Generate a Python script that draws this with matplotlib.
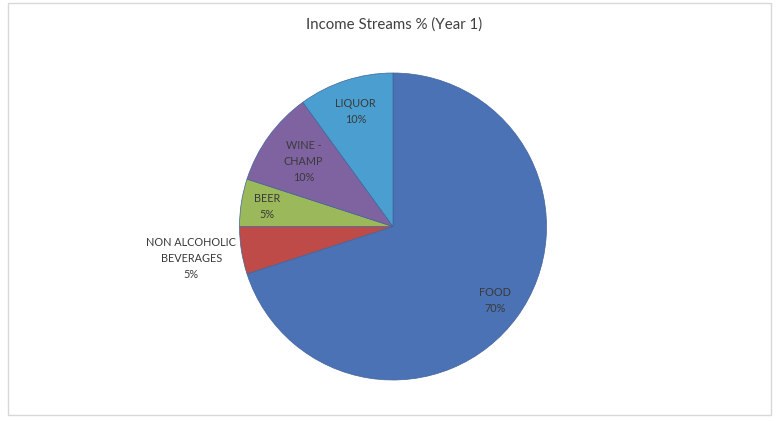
import numpy as np
import matplotlib
matplotlib.use("Agg")
import matplotlib.pyplot as plt
from matplotlib.patches import Rectangle

# income share per stream, drawn clockwise from 12 o'clock
streams = ["FOOD", "NON ALCOHOLIC\nBEVERAGES", "BEER", "WINE -\nCHAMP", "LIQUOR"]
shares = [70, 5, 5, 10, 10]
colors = ["#4A72B5", "#BE4B48", "#9BB85A", "#7F63A1", "#4A9FD0"]

# how far from the centre each label sits (Excel "best fit" look)
label_dist = [0.82, 1.33, 0.83, 0.72, 0.79]

plt.rcParams['font.family'] = ['Lato', 'DejaVu Sans']

fig = plt.figure(figsize=(7.79, 4.21), dpi=100)
fig.patch.set_facecolor("white")

# light chart-area frame
fig.patches.append(Rectangle((8 / 779, 1 - 415 / 421), 763 / 779, 412 / 421,
                             transform=fig.transFigure, fill=False,
                             edgecolor="#d8d8d8", linewidth=1.0))

fig.text(394 / 779, 1 - 25 / 421, "Income Streams % (Year 1)", ha="center", va="center",
         fontsize=10.8, color="#404040")

cx, cy, r = 393, 226.5, 153.5
ax = fig.add_axes([(cx - r) / 779, (421 - cy - r) / 421, 2 * r / 779, 2 * r / 421])
wedges, _ = ax.pie(shares, colors=colors, startangle=90, counterclock=False,
                   wedgeprops=dict(edgecolor="#41639a", linewidth=0.5))
ax.set_xlim(-1, 1)
ax.set_ylim(-1, 1)
ax.set_aspect("equal")
ax.axis("off")

for w, name, val, d in zip(wedges, streams, shares, label_dist):
    mid = np.deg2rad((w.theta1 + w.theta2) / 2)
    ax.text(d * np.cos(mid), d * np.sin(mid), f"{name}\n{val}%", ha="center", va="center",
            fontsize=7.8, color="#3a3a3a", linespacing=1.55)

fig.savefig("out.png", dpi=100)
